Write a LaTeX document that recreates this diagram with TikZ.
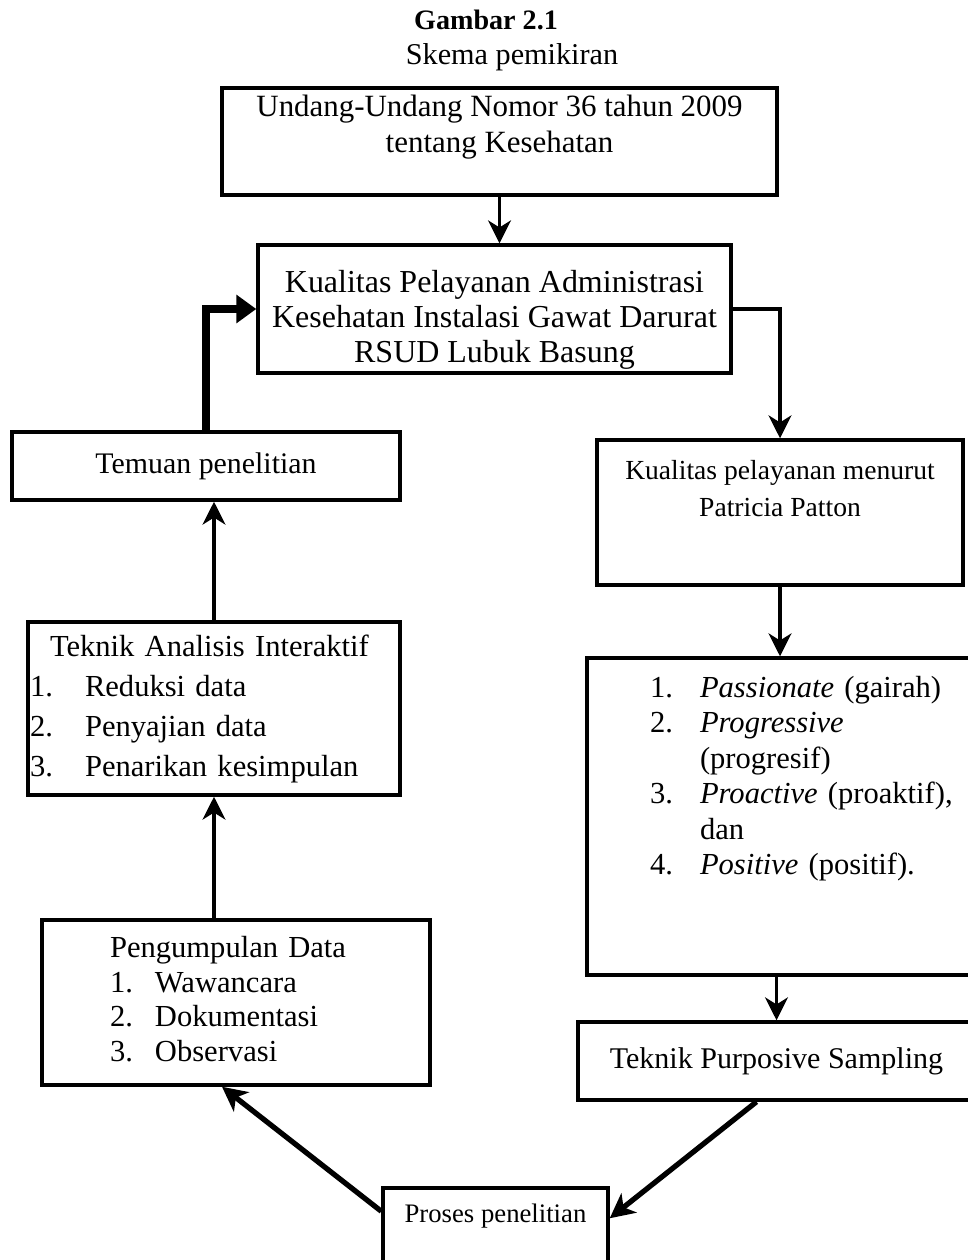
\documentclass[tikz,border=0pt]{standalone}
\usepackage{fontspec}
\setmainfont{Liberation Serif}
\usetikzlibrary{arrows.meta,positioning,calc}

\newcommand{\nomor}[2][1.1cm]{\makebox[#1][l]{#2}}

\tikzset{
  kotak/.style={draw,line width=2pt,inner sep=0pt},
  panah/.style={line width=2pt,-{Stealth[length=13pt,width=13pt,inset=4pt]}},
  miring/.style={line width=3pt,-{Stealth[length=14pt,width=14pt,inset=4pt]}},
  tebal/.style={line width=4pt,-{Triangle[length=0.4cm,width=0.55cm]}},
}

\begin{document}
\begin{tikzpicture}[x=0.02cm,y=-0.02cm]
  \fill[white] (0,0) rectangle (967,1260);
  \useasboundingbox (0,0) rectangle (967,1260);

  % judul
  \node[font=\fontsize{16}{18}\selectfont\bfseries] (judul) at (486,20) {Gambar 2.1};
  \node[font=\fontsize{17.2}{18}\selectfont] (subjudul) at (512,57) {Skema pemikiran};

  % kolom tengah
  \node[kotak,minimum width=11.1cm,minimum height=2.14cm,
        font=\fontsize{17.6}{20.5}\selectfont] (uu) at (499.5,141.5)
        {\begin{tabular}{@{}c@{}}Undang-Undang Nomor 36 tahun 2009\\ tentang Kesehatan\\[0.55cm]\end{tabular}};
  \node[kotak,minimum width=9.46cm,minimum height=2.44cm,
        font=\fontsize{18.2}{19.9}\selectfont] (kual) at (494.5,309)
        {\begin{tabular}{@{}c@{}}\rule{0pt}{0.95cm}Kualitas Pelayanan Administrasi\\ Kesehatan Instalasi Gawat Darurat\\ RSUD Lubuk Basung\end{tabular}};

  % kolom kiri
  \node[kotak,minimum width=7.76cm,minimum height=1.36cm,
        font=\fontsize{17}{20}\selectfont] (temuan) at (206,466) {Temuan penelitian};
  \node[kotak,minimum width=7.44cm,minimum height=3.46cm,text width=7.44cm,align=left,
        font=\fontsize{17.4}{22.8}\selectfont] (analisis) at (214,708.5)
        {\hspace*{0.04cm}\begin{tabular}{@{}l@{}}\hspace{0.4cm}Teknik Analisis Interaktif\\
         \nomor{1.}Reduksi data\\ \nomor{2.}Penyajian data\\ \nomor{3.}Penarikan kesimpulan\end{tabular}};
  \node[kotak,minimum width=7.76cm,minimum height=3.3cm,text width=7.76cm,align=left,
        font=\fontsize{17.4}{19.9}\selectfont] (pengumpulan) at (236,1002.5)
        {\hspace*{1.36cm}\begin{tabular}{@{}l@{}}Pengumpulan Data\\
         \nomor[0.9cm]{1.}Wawancara\\ \nomor[0.9cm]{2.}Dokumentasi\\ \nomor[0.9cm]{3.}Observasi\end{tabular}};

  % kolom kanan
  \node[kotak,minimum width=7.32cm,minimum height=2.9cm,
        font=\fontsize{15.7}{21}\selectfont] (patton) at (780,512.5)
        {\begin{tabular}{@{}c@{}}Kualitas pelayanan menurut\\ Patricia Patton\\[0.88cm]\end{tabular}};
  \node[kotak,minimum width=7.76cm,minimum height=6.34cm,text width=7.76cm,align=left,
        font=\fontsize{17.4}{20.2}\selectfont] (dimensi) at (781,816.5)
        {\hspace*{1.26cm}\begin{tabular}{@{}l@{}}\nomor[1cm]{1.}\textit{Passionate} (gairah)\\
         \nomor[1cm]{2.}\textit{Progressive}\\ \nomor[1cm]{}(progresif)\\
         \nomor[1cm]{3.}\textit{Proactive} (proaktif),\\ \nomor[1cm]{}dan\\
         \nomor[1cm]{4.}\textit{Positive} (positif).\\[1.5cm]\end{tabular}};
  \node[kotak,minimum width=7.94cm,minimum height=1.56cm,
        font=\fontsize{17.1}{20}\selectfont] (sampling) at (776.5,1061) {Teknik Purposive Sampling};

  % bawah
  \node[kotak,minimum width=4.5cm,minimum height=2.24cm,
        font=\fontsize{15.2}{18}\selectfont] (proses) at (495.5,1244)
        {\begin{tabular}{@{}c@{}}Proses penelitian\\[1.1cm]\end{tabular}};

  % alur
  \draw[panah] (uu.south) -- (uu.south |- kual.north);
  \draw[panah] (kual.east) -| (patton.north);
  \draw[panah] (patton.south) -- (patton.south |- dimensi.north);
  \draw[panah] (sampling.north |- dimensi.south) -- (sampling.north);
  \draw[miring] ([xshift=-0.4cm]sampling.south) -- ([yshift=-0.64cm]proses.north east);
  \draw[miring] ([yshift=-0.5cm]proses.north west) -- ([xshift=-0.28cm]pengumpulan.south);
  \draw[panah] (analisis.south |- pengumpulan.north) -- (analisis.south);
  \draw[panah] (analisis.north) -- (analisis.north |- temuan.south);
  \draw[tebal] (temuan.north) |- (kual.west);
\end{tikzpicture}
\end{document}
